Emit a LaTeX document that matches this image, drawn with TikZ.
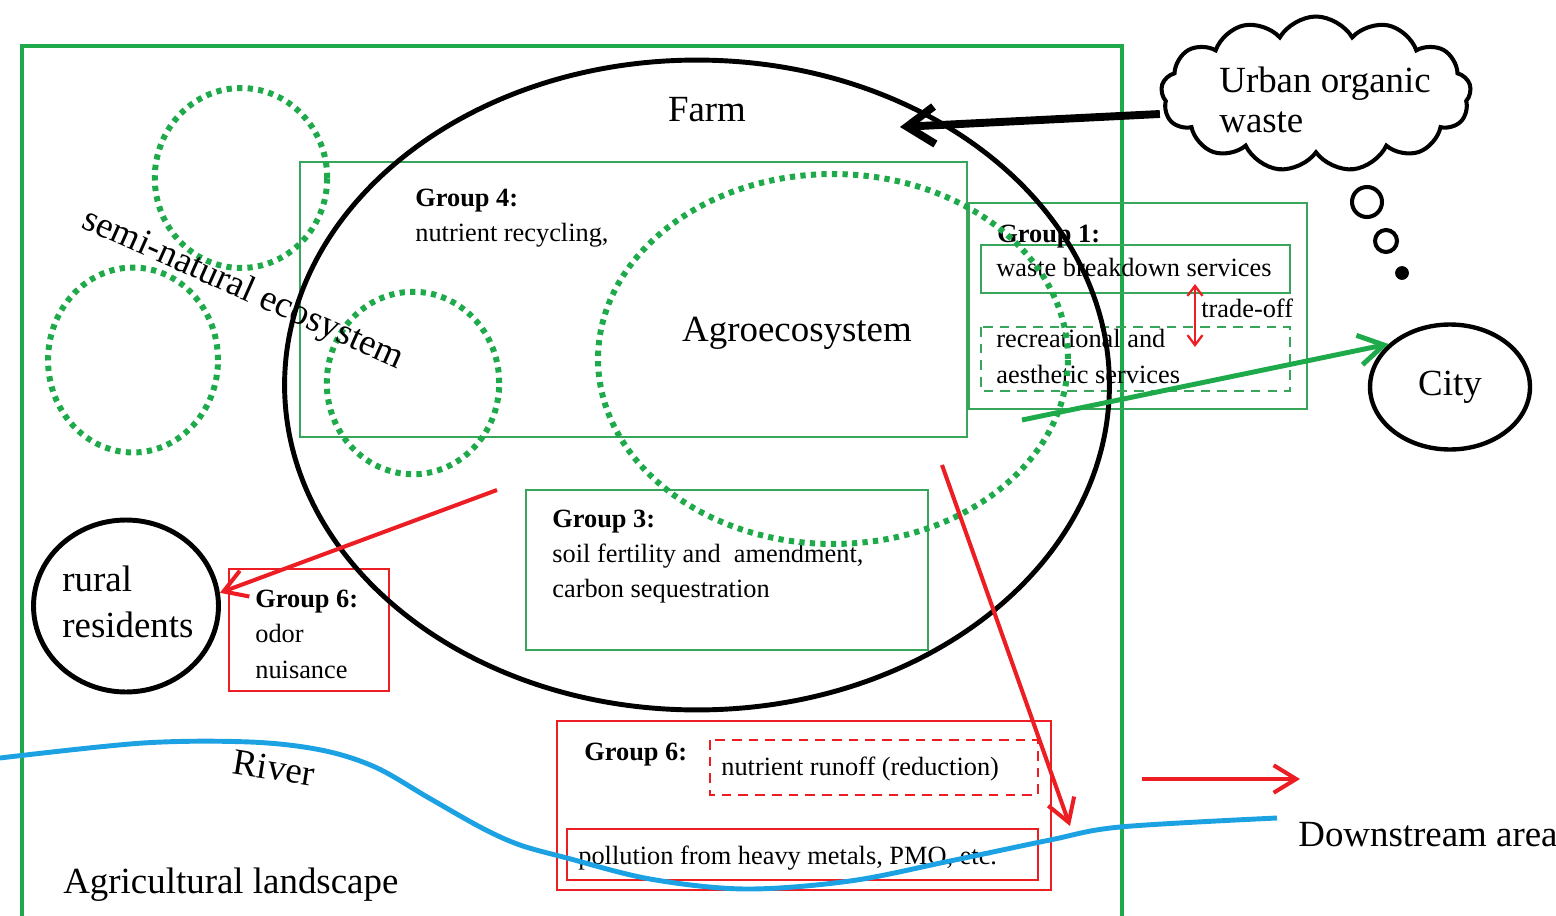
\documentclass[tikz,border=0pt]{standalone}
\usepackage{fontspec}
\setmainfont{Liberation Serif}
\usetikzlibrary{arrows.meta,shapes.geometric,shapes.symbols}
\definecolor{landgreen}{RGB}{30,170,75}
\definecolor{boxgreen}{RGB}{55,165,90}
\definecolor{harmred}{RGB}{236,30,36}
\definecolor{riverblue}{RGB}{28,162,226}
\tikzset{
  lbl/.style={font=\fontsize{15}{18}\selectfont, inner sep=0pt, anchor=base west},
  biglbl/.style={font=\fontsize{21}{25}\selectfont, inner sep=0pt},
  landframe/.style={draw=landgreen, line width=2.8pt},
  gbox/.style={draw=boxgreen, line width=1.1pt},
  rbox/.style={draw=harmred, line width=1pt},
  dashbox/.style={dash pattern=on 5.5pt off 4pt},
  seminat/.style={ellipse, draw=landgreen, line width=3.4pt, dash pattern=on 3pt off 3pt, inner sep=0pt},
  blackring/.style={ellipse, draw, line width=2.8pt, inner sep=0pt},
  redarr/.style={draw=harmred, line width=2.3pt, -{Straight Barb[length=0.45cm, width=0.55cm]}}
}
\begin{document}
\begin{tikzpicture}[x=0.02cm, y=-0.02cm]
  \useasboundingbox (0,0) rectangle (1556,916);
  \clip (0,0) rectangle (1556,916);

  \draw [landframe] (22,46) rectangle (1122,960);

  \draw [gbox] (300,162) rectangle (967,437);
  \node [lbl] (g4head) at (415,206) {\textbf{Group 4:}};
  \node [lbl] (g4text) at (415,241) {nutrient recycling,};

  \draw [gbox] (969,203) rectangle (1307,409);
  \draw [gbox] (981,245) rectangle (1290,293);
  \draw [gbox, dashbox] (981,327) rectangle (1290,391);
  \node [lbl] (g1head) at (997,242) {\textbf{Group 1:}};
  \node [lbl] (g1waste) at (996,276) {waste breakdown services};
  \node [lbl] (g1trade) at (1201,317) {trade-off};
  \node [lbl] (g1rec) at (996,347) {recreational and};
  \node [lbl] (g1aes) at (996,383) {aesthetic services};

  \draw [gbox] (526,490) rectangle (928,650);
  \node [lbl] (g3head) at (552,527) {\textbf{Group 3:}};
  \node [lbl] (g3soil) at (552,562) {soil fertility and\ \ amendment,};
  \node [lbl] (g3carb) at (552,597) {carbon sequestration};

  \draw [rbox] (229,569) rectangle (389,691);
  \node [lbl] (g6head) at (255,607) {\textbf{Group 6:}};
  \node [lbl] (g6odor) at (255,642) {odor};
  \node [lbl] (g6nuis) at (255,678) {nuisance};

  \draw [rbox] (557,721) rectangle (1051,890);
  \draw [rbox, dashbox] (710,740) rectangle (1038,795);
  \draw [rbox] (567,829) rectangle (1038,880);
  \node [lbl] (g6bhead) at (584,760) {\textbf{Group 6:}};
  \node [lbl] (g6run) at (721,775) {nutrient runoff (reduction)};
  \node [lbl] (g6poll) at (578,864) {pollution from heavy metals, PMO, etc.};

  \node [seminat, minimum width=3.45cm, minimum height=3.6cm] (semiA) at (241,178) {};
  \node [seminat, minimum width=3.4cm, minimum height=3.7cm] (semiB) at (133,360) {};
  \node [seminat, minimum width=3.45cm, minimum height=3.65cm] (semiC) at (413,383) {};
  \node [seminat, minimum width=9.4cm, minimum height=7.4cm] (agro) at (833,359) {};
  \node [blackring, minimum width=16.5cm, minimum height=13cm] (farm) at (697,385) {};

  \node [biglbl, anchor=base] (farmlbl) at (707,121) {Farm};
  \node [biglbl, anchor=base] (agrolbl) at (797,341) {Agroecosystem};
  \node [biglbl, rotate=-24] (semilbl) at (243,290) {semi-natural ecosystem};

  \node [cloud, draw, line width=2.3pt, cloud puffs=13, cloud puff arc=120, aspect=2.1,
    minimum width=6.2cm, minimum height=3.1cm, inner sep=0pt] (waste) at (1316,94) {};
  \node [biglbl, anchor=base west] (wastelbl1) at (1219,92) {Urban organic};
  \node [biglbl, anchor=base west] (wastelbl2) at (1219,132) {waste};
  \node [circle, draw, line width=2.3pt, minimum size=0.6cm, inner sep=0pt] (bubA) at (1367,202) {};
  \node [circle, draw, line width=2.3pt, minimum size=0.44cm, inner sep=0pt] (bubB) at (1386,241) {};
  \node [circle, draw, fill, minimum size=0.26cm, inner sep=0pt] (bubC) at (1402,273) {};

  \node [blackring, line width=2.5pt, minimum width=3.2cm, minimum height=2.5cm,
    font=\fontsize{21}{25}\selectfont] (city) at (1450,387) {City};
  \node [blackring, minimum width=3.7cm, minimum height=3.44cm] (rural) at (126,606) {};
  \node [biglbl, anchor=base west] (rurallbl1) at (62,591) {rural};
  \node [biglbl, anchor=base west] (rurallbl2) at (62,637) {residents};

  \draw [riverblue, line width=2.8pt] plot [smooth, tension=0.55] coordinates {(0,758) (143,743) (250,742)
    (321,750) (375,767) (429,798) (482,828) (520,845) (567,858) (650,879) (745,889) (850,881)
    (950,861) (1050,840) (1120,827) (1277,818)};
  \node [biglbl, rotate=-9] (riverlbl) at (274,768) {River};
  \node [biglbl, anchor=base west] (downlbl) at (1298,846) {Downstream area};
  \node [biglbl, anchor=base west] (landlbl) at (63,893) {Agricultural landscape};

  \coordinate (farmtip) at (900,127);
  \coordinate (odorsrc) at (497,490);
  \coordinate (runsrc) at (942,465);
  \coordinate (runtip) at (1070,826);
  \coordinate (downsrc) at (1142,779);
  \coordinate (downtip) at (1300,779);
  \coordinate (citysrc) at (1022,420);
  \coordinate (tradeA) at (1195,284);
  \coordinate (tradeB) at (1195,347);

  \draw [line width=4.5pt, -{Straight Barb[length=0.55cm, width=0.75cm]}] ([yshift=-0.4cm]waste.west) -- (farmtip);
  \draw [redarr] (odorsrc) -- (rural.8);
  \draw [redarr] (runsrc) -- (runtip);
  \draw [redarr] (downsrc) -- (downtip);
  \draw [landgreen, line width=2.8pt, -{Straight Barb[length=0.5cm, width=0.6cm]}] (citysrc) -- (city.145);
  \draw [harmred, line width=1.3pt, {Straight Barb[length=0.2cm, width=0.3cm]}-{Straight Barb[length=0.2cm, width=0.3cm]}] (tradeA) -- (tradeB);
\end{tikzpicture}
\end{document}
